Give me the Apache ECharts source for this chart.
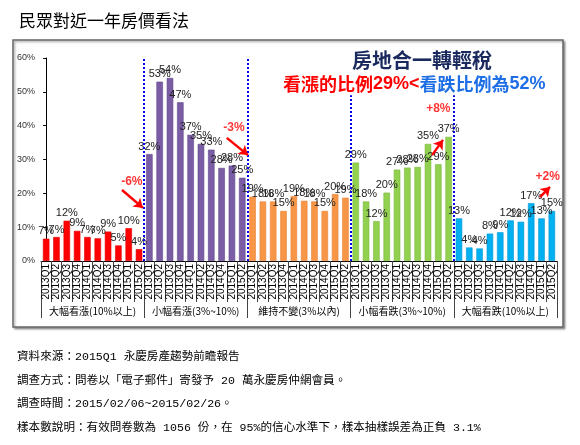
<!DOCTYPE html>
<html><head><meta charset="utf-8">
<script src="https://cdn.jsdelivr.net/npm/echarts@6/dist/echarts.min.js"></script>
<style>html,body{margin:0;padding:0;background:#fff}#c{width:580px;height:445px}</style>
</head><body><div id="c"></div>
<script>
var quarters = ['2013Q1','2013Q2','2013Q3','2013Q4','2014Q1','2014Q2','2014Q3','2014Q4','2015Q1','2015Q2'];
var groups = ['大幅看漲(10%以上)','小幅看漲(3%~10%)','維持不變(3%以內)','小幅看跌(3%~10%)','大幅看跌(10%以上)'];
var bigUp     = [6.6, 7.1, 11.9, 8.9, 7.1, 6.7, 8.7, 4.6, 9.7, 3.5];
var smallUp   = [31.6, 53.0, 54.1, 46.9, 37.3, 34.6, 32.9, 27.5, 28.2, 24.6];
var flat      = [19.0, 17.6, 17.6, 14.8, 19.2, 17.8, 17.6, 14.8, 19.8, 18.7];
var smallDown = [29.1, 17.6, 11.8, 20.2, 27.0, 27.6, 27.8, 34.6, 28.6, 36.7];
var bigDown   = [12.6, 4.0, 3.7, 8.1, 8.5, 12.0, 11.6, 17.1, 12.6, 14.8];
var yTicks = [0, 10, 20, 30, 40, 50, 60];
// annotation arrows (category-index x, percent y)
var arrows = [
  {text:'-6%', label:[8.3, 23.4], from:[7.35, 21.0], to:[9.38, 15.7]},
  {text:'-3%', label:[18.2, 39.3], from:[17.5, 36.4], to:[19.56, 31.3]},
  {text:'+8%', label:[38.0, 44.9], from:[37.4, 31.3], to:[38.45, 35.8]},
  {text:'+2%', label:[48.6, 24.8], from:[47.85, 18.9], to:[48.82, 21.9]}
];
var dividers = [[9.5, 60], [19.5, 60], [29.5, 49], [39.5, 49]];

var groupValues = [bigUp, smallUp, flat, smallDown, bigDown];
var colors = ['#FF0000', '#7B5DA6', '#F79646', '#92D050', '#00B0F0'];
var borders = ['#E00000', '#5E4788', '#E8833A', '#7CB83E', '#0099D6'];

var cats = [];
groups.forEach(function (g, gi) { quarters.forEach(function (q) { cats.push(gi + '|' + q); }); });

var series = groupValues.map(function (vals, gi) {
  var d = cats.map(function () { return null; });
  vals.forEach(function (v, i) { d[gi * quarters.length + i] = v; });
  return {
    type: 'bar', name: groups[gi], data: d, barWidth: 6.5, barGap: '-100%',
    xAxisIndex: 0, yAxisIndex: 0,
    itemStyle: { color: colors[gi], borderColor: borders[gi], borderWidth: 0.6 },
    label: { show: true, position: 'top', distance: 2, fontSize: 11, color: '#222',
      fontFamily: 'Liberation Sans, Arial, sans-serif',
      formatter: function (p) { return p.value == null ? '' : Math.round(p.value) + '%'; } }
  };
});

series.push({
  type: 'scatter', xAxisIndex: 2, yAxisIndex: 0, symbolSize: 0, silent: true,
  data: arrows.map(function (a) { return { value: a.label, name: a.text }; }),
  label: { show: true, position: 'inside', formatter: '{b}', color: '#FF0000', fontWeight: 'bold',
    fontSize: 12, fontFamily: 'Liberation Sans, Arial, sans-serif' },
  markLine: {
    silent: true, animation: false,
    data: dividers.map(function (d) {
      return [{ coord: [d[0], 0], symbol: 'none', lineStyle: { color: '#0000EE', type: [2, 2], width: 2 } },
              { coord: [d[0], d[1]], symbol: 'none' }];
    }).concat(arrows.map(function (a) {
      return [{ coord: a.from, symbol: 'none', lineStyle: { color: '#FF0000', type: 'solid', width: 2.5 } },
              { coord: a.to, symbol: 'arrow', symbolSize: 9 }];
    })),
    label: { show: false }
  }
});

var footFont = { fontSize: 11.6, fontWeight: 'normal', color: '#000', fontFamily: 'Liberation Mono, Noto Sans CJK TC' };
var chart = echarts.init(document.getElementById('c'), null, { renderer: 'canvas' });
chart.setOption({
  animation: false,
  title: [
    { text: '民眾對近一年房價看法', left: 14, top: 7,
      textStyle: { fontSize: 17, fontWeight: 'normal', color: '#000', fontFamily: 'Noto Sans CJK TC' } },
    { text: '房地合一轉輕稅', left: 347, top: 45,
      textStyle: { fontSize: 20, fontWeight: 'bold', color: '#1B2A5E', fontFamily: 'Noto Sans CJK TC',
        textBorderColor: '#fff', textBorderWidth: 2 } },
    { text: '{r|看漲的比例}{rl|29%<}{b|看跌比例為}{bl|52%}', left: 278, top: 70,
      textStyle: { rich: {
        r: { fontSize: 18, fontWeight: 'bold', color: '#FF0000', fontFamily: 'Noto Sans CJK TC', textBorderColor: '#fff', textBorderWidth: 2 },
        rl: { fontSize: 18, fontWeight: 'bold', color: '#FF0000', fontFamily: 'Liberation Sans Narrow, Liberation Sans, Arial', textBorderColor: '#fff', textBorderWidth: 2 },
        b: { fontSize: 18, fontWeight: 'bold', color: '#1E6FE6', fontFamily: 'Noto Sans CJK TC', textBorderColor: '#fff', textBorderWidth: 2 },
        bl: { fontSize: 18, fontWeight: 'bold', color: '#1E6FE6', fontFamily: 'Liberation Sans Narrow, Liberation Sans, Arial', textBorderColor: '#fff', textBorderWidth: 2 }
      } } },
    { text: '資料來源：2015Q1 永慶房產趨勢前瞻報告', left: 12, top: 346, textStyle: footFont },
    { text: '調查方式：問卷以「電子郵件」寄發予 20 萬永慶房仲網會員。', left: 12, top: 370, textStyle: footFont },
    { text: '調查時間：2015/02/06~2015/02/26。', left: 12, top: 393, textStyle: footFont },
    { text: '樣本數說明：有效問卷數為 1056 份，在 95%的信心水準下，樣本抽樣誤差為正負 3.1%', left: 12, top: 417, textStyle: footFont }
  ],
  graphic: [
    { type: 'rect', z: -10, shape: { x: 13, y: 40, width: 550, height: 287 },
      style: { fill: '#fff', stroke: '#666', lineWidth: 1.5, shadowColor: 'rgba(0,0,0,0.35)', shadowBlur: 2, shadowOffsetX: 1.5, shadowOffsetY: 1.5 } }
  ],
  grid: { left: 41, right: 23, top: 58, bottom: 184, containLabel: false },
  xAxis: [
    { type: 'category', data: cats, position: 'bottom', gridIndex: 0,
      axisLine: { show: true, lineStyle: { color: '#000', width: 1 } },
      axisTick: { show: true, interval: 0, length: 41, lineStyle: { color: '#444' } },
      axisLabel: { interval: 0, rotate: 90, margin: 3, fontSize: 10, color: '#000',
        fontFamily: 'Liberation Sans, Arial, sans-serif',
        formatter: function (v) { return v.split('|')[1]; } } },
    { type: 'category', data: groups, position: 'bottom', gridIndex: 0,
      axisLine: { show: false },
      axisTick: { show: true, interval: 0, length: 57, lineStyle: { color: '#444' } },
      axisLabel: { interval: 0, margin: 45, fontSize: 10, color: '#000', fontFamily: 'Noto Sans CJK TC' } },
    { type: 'value', position: 'top', gridIndex: 0, min: -0.5, max: 49.5, show: false }
  ],
  yAxis: [
    { type: 'value', min: yTicks[0], max: yTicks[yTicks.length - 1], interval: 10,
      axisLine: { show: true, lineStyle: { color: '#000' } },
      axisTick: { show: true, length: 3, lineStyle: { color: '#000' } },
      splitLine: { show: false },
      axisLabel: { fontSize: 9, color: '#333', margin: 6, fontFamily: 'Liberation Sans, Arial, sans-serif',
        formatter: '{value}%' } }
  ],
  series: series
});
</script></body></html>
